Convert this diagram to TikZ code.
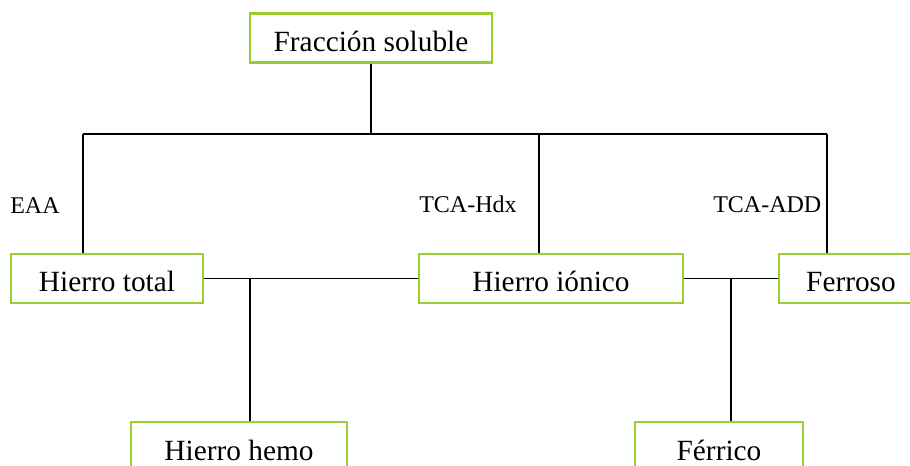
\documentclass[tikz,border=0pt]{standalone}
\usepackage{fontspec}
\setmainfont{Liberation Serif}
\definecolor{boxgreen}{RGB}{154,205,50}
\begin{document}
\begin{tikzpicture}[x=0.75pt,y=-0.75pt,
  box/.style={draw=boxgreen,line width=1.6pt,fill=white,inner sep=0pt,
    text height=28.5pt,text depth=8.25pt,minimum height=36.75pt,
    font=\fontsize{22}{26}\selectfont},
  conn/.style={draw=black,line width=1.4pt},
  lbl/.style={anchor=base west,inner sep=0pt,font=\fontsize{18}{22}\selectfont}]
\useasboundingbox (0,0) rectangle (910,466);
\clip (0,0) rectangle (910,466);
% coordinates of the bus
\coordinate (busL) at (83,134);
\coordinate (busI) at (539,134);
\coordinate (busR) at (827,134);
\coordinate (brT) at (250,278);
\coordinate (brI) at (731,278);
\node[box,minimum width=181.5pt] (frac) at (371,38) {Fracción soluble};
\node[box,minimum width=144pt] (total) at (107,278.5) {Hierro total};
\node[box,minimum width=198pt] (ionico) at (551,278.5) {Hierro iónico};
\node[box,minimum width=108pt] (ferroso) at (851,278.5) {Ferroso};
\node[box,minimum width=162pt] (hemo) at (239,446.5) {Hierro hemo};
\node[box,minimum width=126pt] (ferrico) at (719,446.5) {Férrico};
\draw[conn] (frac.south) -- (frac.south |- busL);
\draw[conn] (busL) -- (busR);
\draw[conn] (busL) -- (busL |- total.north);
\draw[conn] (busI) -- (busI |- ionico.north);
\draw[conn] (busR) -- (busR |- ferroso.north);
\draw[conn] (total.east) -- (ionico.west);
\draw[conn] (ionico.east) -- (ferroso.west);
\draw[conn] (brT) -- (brT |- hemo.north);
\draw[conn] (brI) -- (brI |- ferrico.north);
\node[lbl] (eaa) at (10,214) {EAA};
\node[lbl] (hdx) at (419,213) {TCA-Hdx};
\node[lbl] (add) at (713,213) {TCA-ADD};
\end{tikzpicture}
\end{document}
